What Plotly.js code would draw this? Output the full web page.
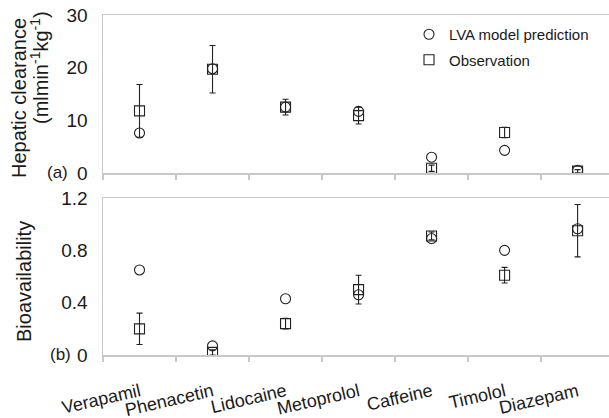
<!DOCTYPE html>
<html>
<head>
<meta charset="utf-8">
<script src="https://cdn.plot.ly/plotly-3.0.1.min.js"></script>
<style>html,body{margin:0;padding:0;overflow:hidden;background:#fff}</style>
</head>
<body>
<div id="chart" style="width:609px;height:418px"></div>
<script>
const drugs = ["Verapamil","Phenacetin","Lidocaine","Metoprolol","Caffeine","Timolol","Diazepam"];
// Hepatic clearance (ml min-1 kg-1)
const clPred = [7.6, 19.8, 12.5, 11.7, 3.0, 4.3, 0.5];
const clObs  = [11.8, 19.7, 12.5, 10.9, 0.9, 7.7, 0.35];
const clErr  = [5.0, 4.5, 1.5, 1.6, 0.6, 1.0, 0.3];
// Bioavailability
const fPred = [0.65, 0.07, 0.43, 0.46, 0.89, 0.80, 0.965];
const fObs  = [0.20, 0.02, 0.24, 0.50, 0.91, 0.61, 0.95];
const fErr  = [0.12, 0.02, 0.04, 0.11, 0.03, 0.06, 0.20];
const fTickVals = [0, 0.4, 0.8, 1.2];
const fTickText = ["0", "0.4", "0.8", "1.2"];

const mk = (sym) => ({symbol: sym, size: 10, color: "rgba(255,255,255,0)", line: {color: "#222", width: 1.1}});
const eb = (arr) => ({type: "data", array: arr, visible: true, color: "#222", thickness: 1.1, width: 3});

const traces = [
  {x: drugs, y: clObs, type: "scatter", mode: "markers", name: "Observation", marker: mk("square"),
   error_y: eb(clErr), xaxis: "x", yaxis: "y", legendgroup: "b", legendrank: 2},
  {x: drugs, y: clPred, type: "scatter", mode: "markers", name: "LVA model prediction", marker: mk("circle"),
   xaxis: "x", yaxis: "y", legendgroup: "a", legendrank: 1},
  {x: drugs, y: fObs, type: "scatter", mode: "markers", name: "Observation", marker: mk("square"),
   error_y: eb(fErr), xaxis: "x2", yaxis: "y2", showlegend: false},
  {x: drugs, y: fPred, type: "scatter", mode: "markers", name: "LVA model prediction", marker: mk("circle"),
   xaxis: "x2", yaxis: "y2", showlegend: false}
];

const axisLine = {showline: true, linecolor: "#c8c8c8", linewidth: 1.5, zeroline: false, showgrid: false};
const tickFont = {family: "Liberation Sans, Arial, sans-serif", size: 19, color: "#1a1a1a"};
const px = (p) => (p - 103) / 506;
const py = (p) => (355 - p) / 340;

const layout = {
  width: 609, height: 418,
  margin: {l: 103, r: 0, t: 15, b: 63, autoexpand: false},
  paper_bgcolor: "#fff", plot_bgcolor: "#fff",
  font: {family: "Liberation Sans, Arial, sans-serif", color: "#1a1a1a"},
  showlegend: true,
  legend: {x: px(409), y: py(18), xanchor: "left", yanchor: "top", bgcolor: "rgba(0,0,0,0)",
           font: {size: 15, color: "#1a1a1a"}, traceorder: "grouped", tracegroupgap: 3},
  xaxis: Object.assign({}, axisLine, {type: "category", anchor: "y", range: [-0.5, 6.43], mirror: true,
           showticklabels: false, ticks: "outside", tickson: "boundaries", ticklen: 5, tickcolor: "#c8c8c8", tickwidth: 1.5}),
  yaxis: Object.assign({}, axisLine, {domain: [py(173), 1], range: [0, 30], tickvals: [0, 10, 20, 30],
           ticks: "", tickfont: tickFont, ticklabelstandoff: 10}),
  xaxis2: Object.assign({}, axisLine, {type: "category", anchor: "y2", range: [-0.5, 6.43], mirror: true,
           ticks: "outside", tickson: "boundaries", ticklen: 5, tickcolor: "#c8c8c8", tickwidth: 1.5,
           tickangle: -13, tickfont: {size: 18, color: "#1a1a1a"}, ticklabelstandoff: 18}),
  yaxis2: Object.assign({}, axisLine, {domain: [0, py(198)], range: [0, 1.2], tickvals: fTickVals, ticktext: fTickText,
           ticks: "", tickfont: tickFont, ticklabelstandoff: 10}),
  annotations: [
    {text: "Hepatic clearance", xref: "paper", yref: "paper", x: px(19), y: py(180), textangle: -90,
     showarrow: false, font: {size: 20}, xanchor: "center", yanchor: "bottom"},
    {text: "(mlmin<sup>-1</sup>kg<sup>-1</sup>)", xref: "paper", yref: "paper", x: px(39), y: py(68), textangle: -90,
     showarrow: false, font: {size: 20}, xanchor: "center", yanchor: "middle"},
    {text: "Bioavailability", xref: "paper", yref: "paper", x: px(24), y: py(282), textangle: -90,
     showarrow: false, font: {size: 20}, xanchor: "center", yanchor: "middle"},
    {text: "(a)", xref: "paper", yref: "paper", x: px(57), y: py(172), showarrow: false, font: {size: 17},
     xanchor: "center", yanchor: "middle"},
    {text: "(b)", xref: "paper", yref: "paper", x: px(60), y: py(354), showarrow: false, font: {size: 17},
     xanchor: "center", yanchor: "middle"}
  ]
};

Plotly.newPlot("chart", traces, layout, {displayModeBar: false, staticPlot: true});
</script>
</body>
</html>
